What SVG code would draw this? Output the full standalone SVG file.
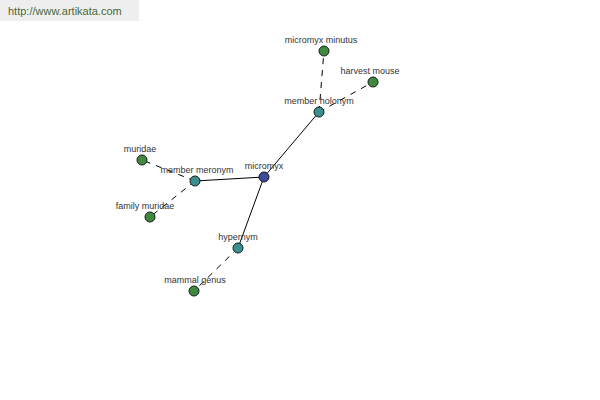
<svg xmlns="http://www.w3.org/2000/svg" width="600" height="400" viewBox="0 0 600 400">
<style>
.lbl{font-family:"Liberation Sans",Arial,sans-serif;font-size:9px;fill:#333;text-anchor:middle}
.leaf{fill:#3f8a3f;stroke:#1a1a1a;stroke-width:1}
.hub{fill:#3a8f8f;stroke:#1a1a1a;stroke-width:1}
.root{fill:#3d4a9c;stroke:#1a1a1a;stroke-width:1}
.solid{stroke:#000;stroke-width:1;fill:none}
.dash{stroke:#000;stroke-width:1;fill:none;stroke-dasharray:6,6}
</style>
<rect x="0" y="0" width="139" height="21" fill="#eeeeee"/>
<text x="8" y="15" font-family="Liberation Sans,Arial,sans-serif" font-size="11" fill="#4a6a3a">http://www.artikata.com</text>
<g id="connectors">
<line class="solid" x1="264" y1="177" x2="319" y2="112"/>
<line class="solid" x1="264" y1="177" x2="195" y2="181"/>
<line class="solid" x1="264" y1="177" x2="238" y2="248"/>
<line class="dash" x1="319" y1="112" x2="324" y2="51"/>
<line class="dash" x1="319" y1="112" x2="373" y2="82"/>
<line class="dash" x1="195" y1="181" x2="142" y2="160"/>
<line class="dash" x1="195" y1="181" x2="150" y2="217"/>
<line class="dash" x1="238" y1="248" x2="194" y2="291"/>
</g>
<g id="micromyx-minutus"><circle class="leaf" cx="324" cy="51" r="5"/><text class="lbl" x="321" y="43">micromyx minutus</text></g>
<g id="harvest-mouse"><circle class="leaf" cx="373" cy="82" r="5"/><text class="lbl" x="370" y="74">harvest mouse</text></g>
<g id="member-holonym"><circle class="hub" cx="319" cy="112" r="5"/><text class="lbl" x="319" y="104">member holonym</text></g>
<g id="muridae"><circle class="leaf" cx="142" cy="160" r="5"/><text class="lbl" x="140" y="152">muridae</text></g>
<g id="member-meronym"><circle class="hub" cx="195" cy="181" r="5"/><text class="lbl" x="197" y="173">member meronym</text></g>
<g id="family-muridae"><circle class="leaf" cx="150" cy="217" r="5"/><text class="lbl" x="145" y="209">family muridae</text></g>
<g id="micromyx"><circle class="root" cx="264" cy="177" r="5"/><text class="lbl" x="264" y="169">micromyx</text></g>
<g id="hypernym"><circle class="hub" cx="238" cy="248" r="5"/><text class="lbl" x="238" y="240">hypernym</text></g>
<g id="mammal-genus"><circle class="leaf" cx="194" cy="291" r="5"/><text class="lbl" x="195" y="283">mammal genus</text></g>
</svg>
